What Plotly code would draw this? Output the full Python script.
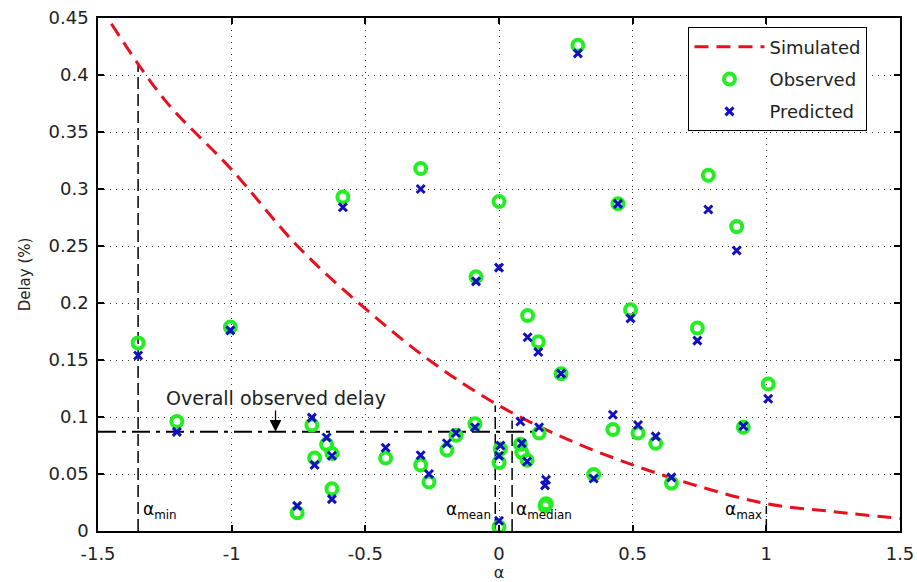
import plotly.graph_objects as go

# ---------------- data ----------------
alpha = [-1.35, -1.205, -1.005, -0.755, -0.70, -0.69, -0.645, -0.625, -0.625, -0.584,
         -0.424, -0.293, -0.293, -0.262, -0.195, -0.161, -0.09, -0.086, 0.0, 0.005,
         0.0, 0.0, 0.08, 0.085, 0.105, 0.107, 0.147, 0.15, 0.176, 0.172,
         0.232, 0.295, 0.354, 0.426, 0.445, 0.492, 0.52, 0.586, 0.645, 0.742,
         0.783, 0.889, 0.914, 1.007]
observed = [0.165, 0.096, 0.179, 0.016, 0.093, 0.064, 0.076, 0.068, 0.037, 0.293,
            0.064, 0.318, 0.058, 0.043, 0.071, 0.084, 0.094, 0.223, 0.289, 0.072,
            0.060, 0.0035, 0.076, 0.069, 0.062, 0.189, 0.166, 0.086, 0.024, 0.022,
            0.138, 0.426, 0.0495, 0.089, 0.287, 0.194, 0.086, 0.077, 0.042, 0.178,
            0.312, 0.267, 0.091, 0.129]
predicted = [0.154, 0.087, 0.176, 0.022, 0.0995, 0.058, 0.082, 0.066, 0.028, 0.284,
             0.073, 0.300, 0.0665, 0.050, 0.077, 0.086, 0.091, 0.219, 0.231, 0.075,
             0.066, 0.009, 0.096, 0.077, 0.061, 0.170, 0.157, 0.091, 0.045, 0.040,
             0.138, 0.419, 0.046, 0.102, 0.287, 0.1865, 0.093, 0.083, 0.047, 0.167,
             0.282, 0.246, 0.092, 0.116]

sim_alpha = [-1.45, -1.25, -1.0, -0.75, -0.5, -0.25, 0.0, 0.25, 0.5, 0.75, 1.0, 1.25, 1.5]
sim_delay = [0.445, 0.378, 0.317, 0.249, 0.195, 0.148, 0.110, 0.081, 0.058, 0.039, 0.024, 0.017, 0.011]

marker_names = ["min", "mean", "median", "max"]
marker_alpha = [-1.35, -0.014, 0.049, 1.0]
marker_top = [0.41, 0.11, 0.097, 0.022]

overall_delay = 0.087
overall_end = 0.13
overall_label_x = -0.836

x_ticks = [-1.5, -1, -0.5, 0, 0.5, 1, 1.5]
x_ticktext = ["-1.5", "-1", "-0.5", "0", "0.5", "1", "1.5"]
y_ticks = [0, 0.05, 0.1, 0.15, 0.2, 0.25, 0.3, 0.35, 0.4, 0.45]
y_ticktext = ["0", "0.05", "0.1", "0.15", "0.2", "0.25", "0.3", "0.35", "0.4", "0.45"]

FONT = "DejaVu Sans"
fig = go.Figure()

# vertical marker lines
for a, top in zip(marker_alpha, marker_top):
    fig.add_trace(go.Scatter(x=[a, a], y=[0, top], mode="lines",
                             line=dict(color="black", width=1.5, dash="12px,5px"),
                             showlegend=False, hoverinfo="skip"))

# overall observed delay line
fig.add_trace(go.Scatter(x=[x_ticks[0], overall_end], y=[overall_delay, overall_delay], mode="lines",
                         line=dict(color="black", width=2, dash="18px,6px,4px,6px"),
                         showlegend=False, hoverinfo="skip"))

fig.add_trace(go.Scatter(x=sim_alpha, y=sim_delay, mode="lines", name="Simulated", legendgroup="s",
                         line=dict(color="#e8101c", width=3, dash="14px,8px", shape="spline")))
fig.add_trace(go.Scatter(x=alpha, y=observed, mode="markers", name="Observed", legendgroup="o",
                         marker=dict(symbol="circle-open", size=11, color="#22ee22",
                                     line=dict(width=4, color="#22ee22"))))
fig.add_trace(go.Scatter(x=alpha, y=predicted, mode="markers", name="Predicted", legendgroup="p",
                         marker=dict(symbol="x-thin-open", size=8, color="#1010c0",
                                     line=dict(width=3, color="#1010c0"))))

# alpha labels
anchors = ["left", "right", "left", "right"]
offsets = [0.012, -0.01, 0.008, -0.01]
for n, a, anc, off in zip(marker_names, marker_alpha, anchors, offsets):
    fig.add_annotation(x=a + off, y=0.018, text="α<sub>" + n + "</sub>", showarrow=False,
                       xanchor=anc, yanchor="middle", font=dict(family=FONT, size=17, color="black"))

fig.add_annotation(x=overall_label_x, y=0.117, text="Overall observed delay", showarrow=False,
                   xanchor="center", yanchor="middle", font=dict(family=FONT, size=19, color="#222"))
fig.add_annotation(x=overall_label_x, y=overall_delay, ax=overall_label_x, ay=0.107,
                   axref="x", ayref="y", text="", showarrow=True, arrowhead=2,
                   arrowsize=1.8, arrowwidth=1.3, arrowcolor="black")

axis_common = dict(showline=True, linecolor="black", linewidth=1.5, mirror="allticks",
                   ticks="inside", ticklen=6, tickcolor="black", tickwidth=1.5,
                   showgrid=True, gridcolor="#333", gridwidth=1, griddash="1px,5px",
                   zeroline=False, automargin=False,
                   tickfont=dict(family=FONT, size=18, color="#222"))

fig.update_xaxes(range=[-1.5, 1.5], tickvals=x_ticks, ticktext=x_ticktext, ticklabelstandoff=6,
                 title=dict(text="α", font=dict(family=FONT, size=16, color="#222"), standoff=6),
                 **axis_common)
fig.update_yaxes(range=[0, 0.45], tickvals=y_ticks, ticktext=y_ticktext, ticklabelstandoff=4,
                 title=dict(text="Delay (%)", font=dict(family=FONT, size=15, color="#222"), standoff=14),
                 **axis_common)

fig.update_layout(width=917, height=582, plot_bgcolor="white", paper_bgcolor="white",
                  margin=dict(l=98, r=17, t=18, b=51, autoexpand=False),
                  legend=dict(x=0.736, y=0.982, xanchor="left", yanchor="top",
                              bgcolor="white", bordercolor="black", borderwidth=1.2,
                              font=dict(family=FONT, size=18, color="#222"),
                              itemwidth=70, tracegroupgap=6),
                  font=dict(family=FONT))

fig.write_html("out.html")
